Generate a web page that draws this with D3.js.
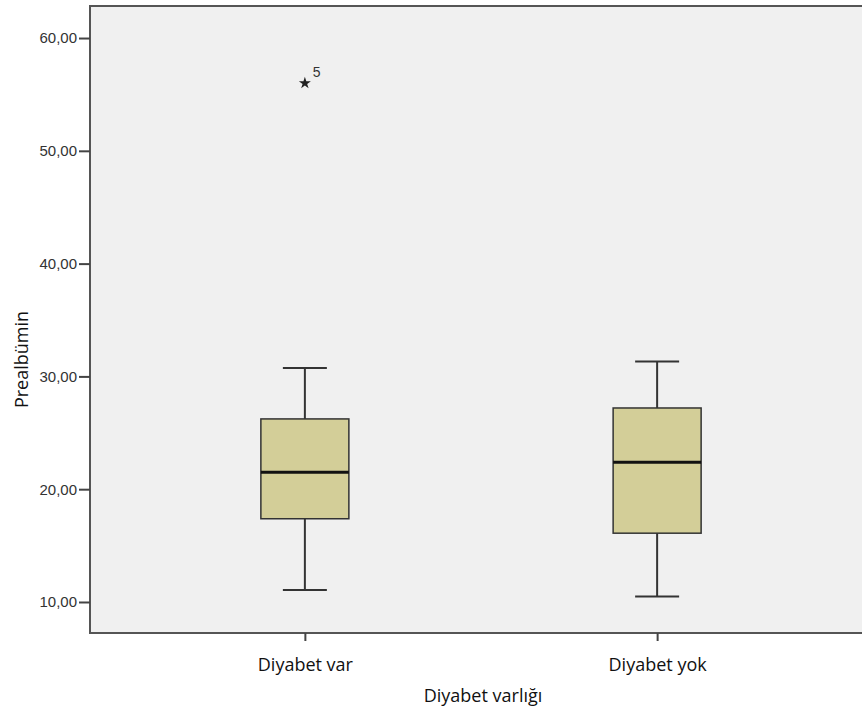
<!DOCTYPE html>
<html>
<head>
<meta charset="utf-8">
<script src="https://cdn.jsdelivr.net/npm/d3@7"></script>
<style>
  body { margin: 0; background: #fff; }
</style>
</head>
<body>
<div id="chart"></div>
<script>
// data
const groups = ["Diyabet var", "Diyabet yok"];
const whiskerLow = [11.06, 10.49];
const q1 = [17.38, 16.1];
const median = [21.5, 22.39];
const q3 = [26.23, 27.2];
const whiskerHigh = [30.75, 31.33];
const outlierValues = [[56.0], []];
const outlierLabels = [["5"], []];
const yTicks = [10, 20, 30, 40, 50, 60];

const W = 862, H = 712;
const margin = {top: 6, right: -10, bottom: 79, left: 90};
const plotRight = W - margin.right;
const plotBottom = H - margin.bottom;

const svg = d3.select("#chart")
  .append("svg")
    .attr("width", W)
    .attr("height", H);

const x = d3.scalePoint()
  .domain(groups)
  .range([margin.left, plotRight])
  .padding(0.61);

const y = d3.scaleLinear()
  .domain([7.25, 62.84])
  .range([plotBottom, margin.top]);

// plot background + frame
svg.append("rect")
  .attr("x", margin.left)
  .attr("y", margin.top)
  .attr("width", plotRight - margin.left)
  .attr("height", plotBottom - margin.top)
  .attr("fill", "#f0f0f0")
  .attr("stroke", "#555")
  .attr("stroke-width", 2);

// Y axis
const yAxis = svg.append("g")
  .attr("transform", `translate(${margin.left},0)`)
  .call(d3.axisLeft(y).tickValues(yTicks)
    .tickFormat(d => d3.format(".2f")(d).replace(".", ","))
    .tickSize(11).tickPadding(2));
yAxis.select(".domain").remove();
yAxis.selectAll(".tick line").attr("stroke", "#444").attr("stroke-width", 2);
yAxis.selectAll(".tick text")
  .attr("fill", "#333")
  .style("font-family", "'Liberation Sans', Arial, sans-serif")
  .style("font-size", "15px");

// X axis
const xAxis = svg.append("g")
  .attr("transform", `translate(0,${plotBottom})`)
  .call(d3.axisBottom(x).tickSize(8));
xAxis.select(".domain").remove();
xAxis.selectAll(".tick line").attr("stroke", "#444").attr("stroke-width", 2);
xAxis.selectAll(".tick text")
  .attr("y", 38)
  .attr("dy", null)
  .attr("fill", "#111")
  .style("font-family", "'Open Sans', sans-serif")
  .style("font-size", "18px");

// axis titles
svg.append("text")
  .attr("x", 483)
  .attr("y", 702)
  .attr("text-anchor", "middle")
  .attr("fill", "#111")
  .style("font-family", "'Open Sans', sans-serif")
  .style("font-size", "18px")
  .text("Diyabet varlığı");

svg.append("text")
  .attr("transform", `translate(28,${(margin.top + plotBottom) / 2 + 40}) rotate(-90)`)
  .attr("text-anchor", "middle")
  .attr("fill", "#111")
  .style("font-family", "'Open Sans', sans-serif")
  .style("font-size", "18px")
  .text("Prealbümin");

// boxes
const boxW = 88, capW = 44;
const boxes = svg.append("g")
  .selectAll("g")
  .data(groups)
  .join("g");

boxes.append("line")
  .attr("x1", d => x(d)).attr("x2", d => x(d))
  .attr("y1", (d, i) => y(whiskerHigh[i]))
  .attr("y2", (d, i) => y(whiskerLow[i]))
  .attr("stroke", "#333").attr("stroke-width", 2);

boxes.selectAll(".cap")
  .data((d, i) => [{g: d, v: whiskerHigh[i]}, {g: d, v: whiskerLow[i]}])
  .join("line")
  .attr("class", "cap")
  .attr("x1", d => x(d.g) - capW / 2).attr("x2", d => x(d.g) + capW / 2)
  .attr("y1", d => y(d.v)).attr("y2", d => y(d.v))
  .attr("stroke", "#333").attr("stroke-width", 2);

boxes.append("rect")
  .attr("x", d => x(d) - boxW / 2)
  .attr("width", boxW)
  .attr("y", (d, i) => y(q3[i]))
  .attr("height", (d, i) => y(q1[i]) - y(q3[i]))
  .attr("fill", "#d3ce98")
  .attr("stroke", "#333").attr("stroke-width", 1.5);

boxes.append("line")
  .attr("x1", d => x(d) - boxW / 2).attr("x2", d => x(d) + boxW / 2)
  .attr("y1", (d, i) => y(median[i]))
  .attr("y2", (d, i) => y(median[i]))
  .attr("stroke", "#111").attr("stroke-width", 3);

// outliers
const outliers = groups.flatMap((g, i) =>
  outlierValues[i].map((v, j) => ({g, v, label: outlierLabels[i][j]})));

svg.append("g")
  .selectAll("path")
  .data(outliers)
  .join("path")
  .attr("transform", d => `translate(${x(d.g)},${y(d.v)})`)
  .attr("d", d3.symbol(d3.symbolStar, 45))
  .attr("fill", "#222");

svg.append("g")
  .selectAll("text")
  .data(outliers)
  .join("text")
  .attr("x", d => x(d.g) + 8)
  .attr("y", d => y(d.v) - 6)
  .attr("fill", "#333")
  .style("font-family", "'Liberation Sans', Arial, sans-serif")
  .style("font-size", "14px")
  .text(d => d.label);
</script>
</body>
</html>
